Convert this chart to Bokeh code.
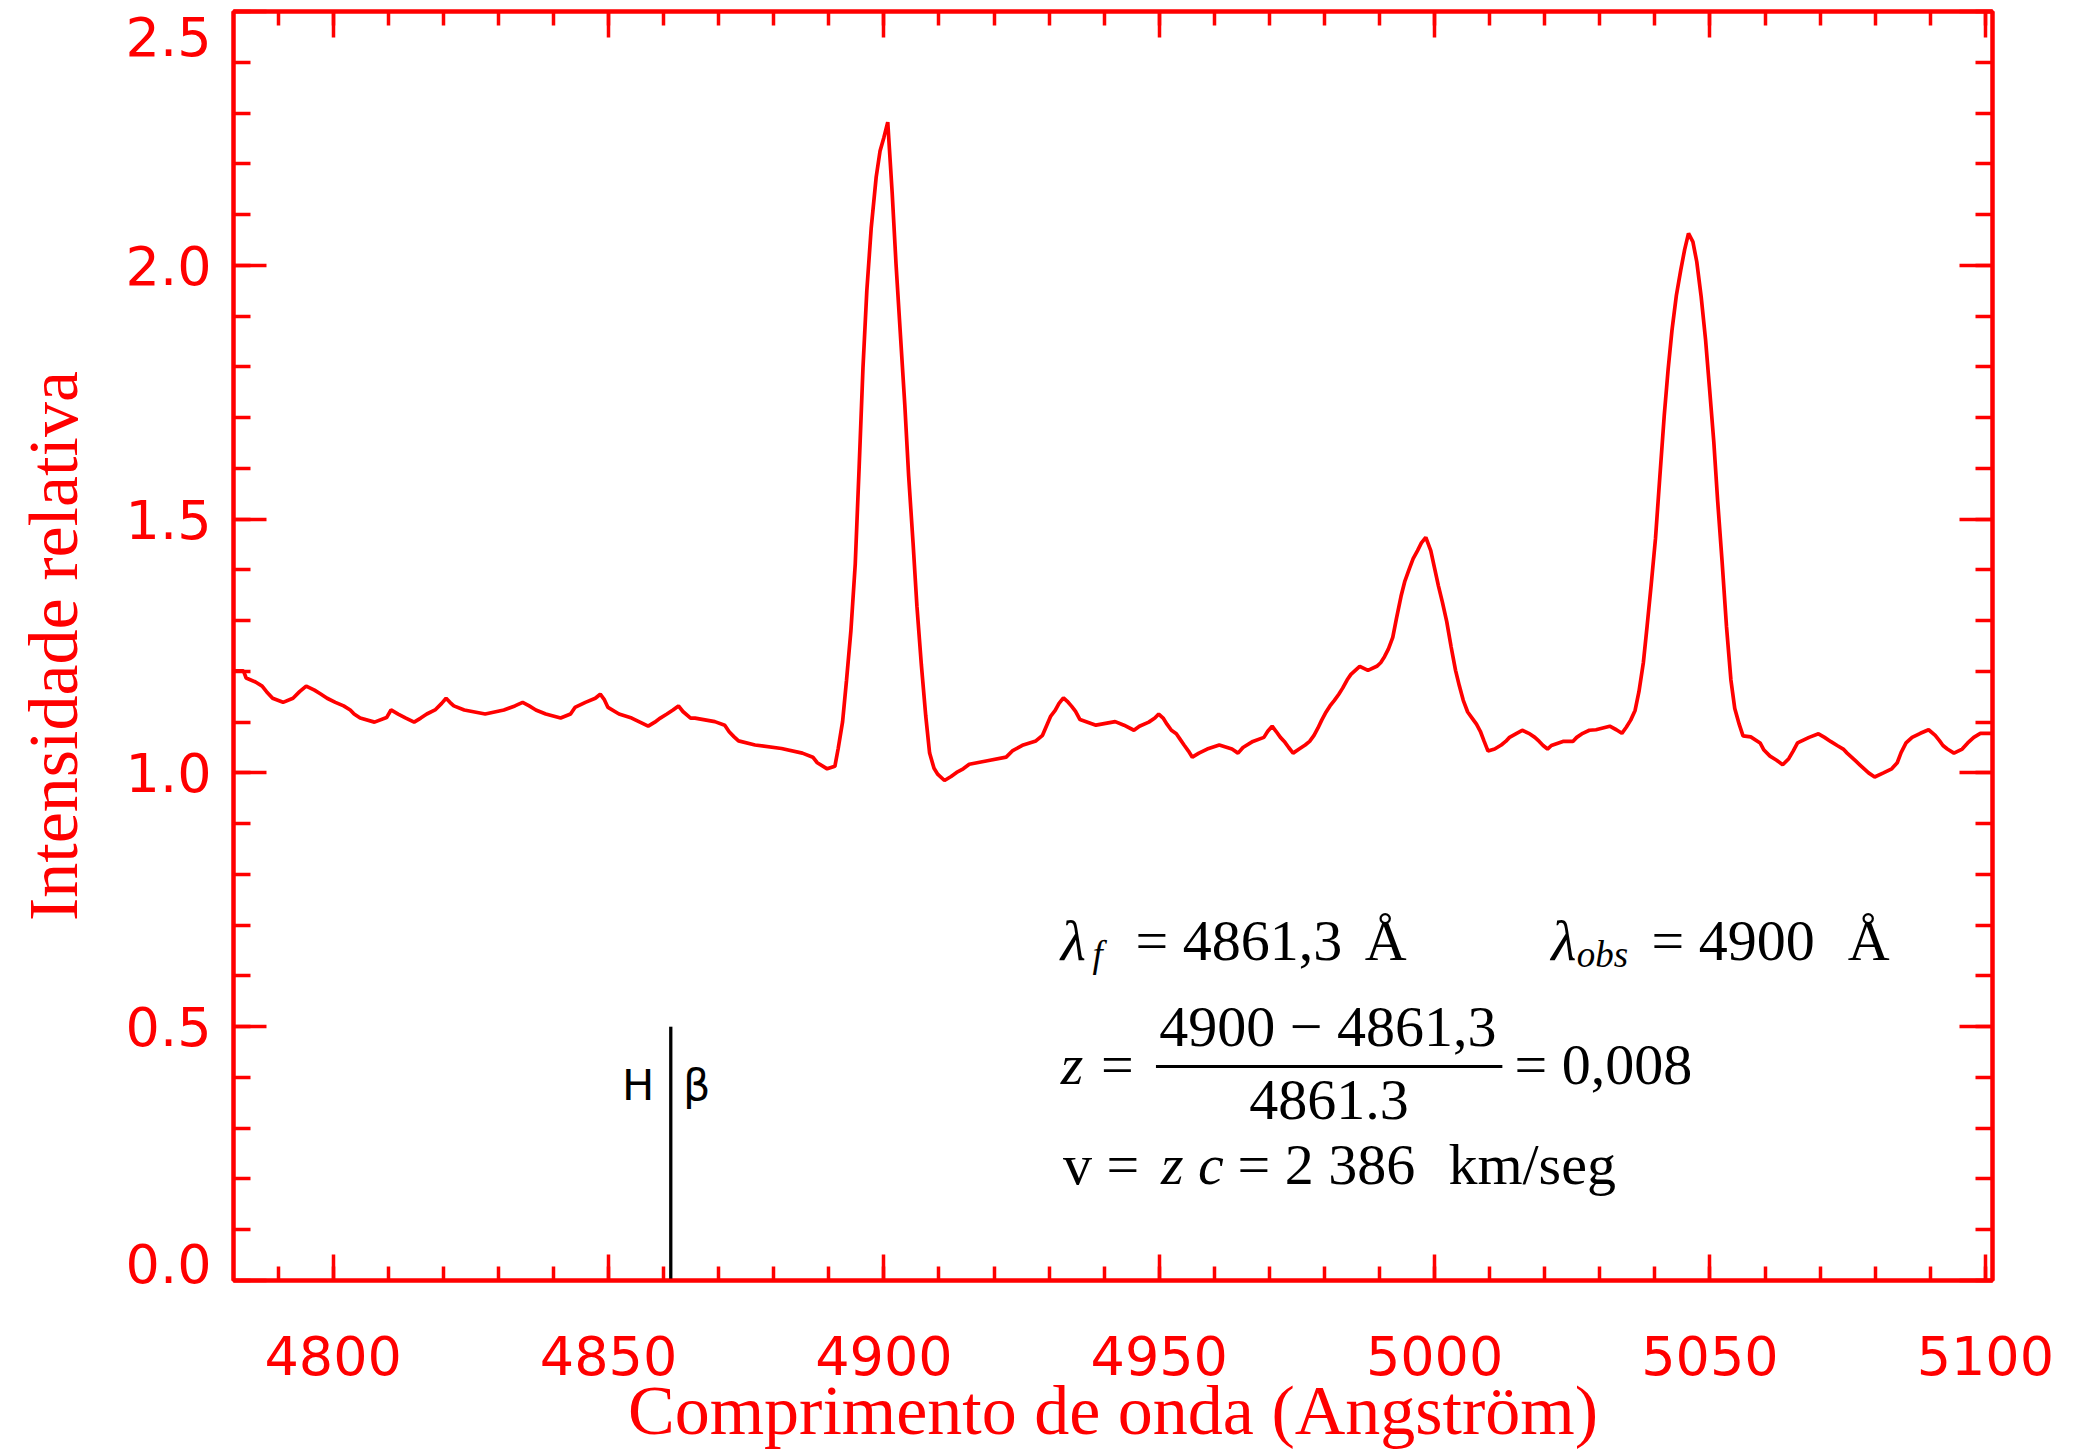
from bokeh.plotting import figure
from bokeh.models import (Range1d, LinearAxis, SingleIntervalTicker, FixedTicker,
                          CustomJSTickFormatter, Label, ColumnDataSource)
from bokeh.embed import file_html
from bokeh.resources import INLINE

# ---------------- data ----------------
wavelength = [
    4781.9, 4783.7, 4784.2, 4785.9, 4787.1, 4787.9, 4789.0, 4790.9, 4792.7, 4793.9,
    4795.1, 4796.6, 4797.8, 4798.9, 4800.4, 4801.9, 4803.1, 4803.8, 4804.9, 4807.5,
    4809.7, 4810.5, 4811.8, 4813.2, 4814.7, 4815.9, 4817.0, 4818.5, 4819.7, 4820.5,
    4821.2, 4821.9, 4823.8, 4827.6, 4831.0, 4833.0, 4834.4, 4835.6, 4836.8, 4838.6,
    4841.3, 4843.1, 4843.9, 4845.8, 4847.6, 4848.5, 4849.2, 4849.9, 4851.9, 4854.2,
    4855.7, 4857.2, 4858.4, 4859.4, 4860.6, 4861.7, 4862.7, 4863.5, 4864.9,
    4865.7, 4869.3, 4871.1, 4871.9, 4872.8, 4873.6, 4876.6, 4881.4, 4885.2, 4887.1,
    4887.9, 4889.7, 4891.1,
    4891.7, 4892.5, 4893.2, 4894.0, 4894.8, 4895.5, 4896.2, 4896.9, 4897.7, 4898.6,
    4899.3, 4900.0, 4900.7,
    4901.5, 4902.2, 4903.0, 4903.8, 4904.5, 4905.3, 4906.0, 4906.8, 4907.6, 4908.3,
    4909.1, 4909.8, 4911.0, 4912.2, 4913.2, 4914.4, 4915.5, 4918.8, 4922.2, 4923.4,
    4925.3, 4927.6, 4928.8, 4929.5, 4930.3, 4931.1, 4931.8, 4932.6, 4933.3, 4934.1,
    4934.8, 4935.6, 4938.5, 4942.0, 4943.6,
    4945.4, 4946.4, 4948.1, 4949.2, 4949.9, 4950.7, 4951.4, 4952.2, 4953.1, 4953.8,
    4954.5, 4955.3, 4956.0, 4957.2, 4958.7, 4960.9, 4963.2, 4964.3, 4965.2, 4967.0,
    4969.0, 4969.7, 4970.5, 4971.2, 4972.0, 4972.7, 4973.5, 4974.3, 4975.4, 4976.5,
    4977.3, 4978.1, 4978.8, 4979.5, 4980.3, 4981.0, 4981.8, 4982.6, 4983.3, 4984.1,
    4984.8, 4985.6, 4986.4, 4987.9, 4989.5, 4990.2, 4990.9, 4991.6, 4992.4, 4993.1,
    4993.9, 4994.6, 4995.4, 4996.1, 4996.9, 4997.6, 4998.4, 4999.3, 5000.0, 5000.7,
    5001.4, 5002.2, 5003.0, 5003.8, 5004.5, 5005.2, 5006.0, 5006.8, 5007.6, 5008.3,
    5009.0, 5009.7, 5010.9, 5012.1, 5012.9, 5013.6, 5014.9, 5015.9, 5017.1, 5018.2,
    5019.0, 5019.7, 5020.5, 5021.2, 5023.3, 5025.1, 5025.8, 5026.9, 5028.1,
    5029.3, 5031.8, 5033.0, 5034.0, 5034.8, 5035.6, 5036.4, 5037.1, 5037.9, 5038.6,
    5039.3, 5040.1, 5040.9, 5041.7, 5042.4, 5043.1, 5043.9, 5044.7, 5045.4, 5046.1,
    5046.9, 5047.6, 5048.4, 5049.2, 5049.9, 5050.7, 5051.4, 5052.2, 5053.0, 5053.8,
    5054.5, 5055.3, 5056.0, 5057.4, 5059.1, 5059.8, 5060.9, 5062.1, 5063.2, 5064.3,
    5065.1, 5065.9, 5068.0, 5069.7, 5070.8, 5071.9, 5073.1, 5074.2, 5074.9, 5075.7,
    5076.5, 5077.2, 5078.0, 5078.8, 5079.9, 5081.5, 5083.0, 5084.0, 5084.7, 5085.6,
    5086.7, 5088.2, 5089.7, 5090.9, 5091.7, 5092.3, 5093.1, 5094.3, 5095.8, 5096.8,
    5097.9, 5099.1, 5101.3,
]
intensity = [
    1.201, 1.201, 1.187, 1.179, 1.171, 1.160, 1.147, 1.139, 1.147, 1.160,
    1.171, 1.163, 1.155, 1.147, 1.139, 1.132, 1.124, 1.116, 1.108, 1.100,
    1.109, 1.124, 1.116, 1.108, 1.100, 1.108, 1.116, 1.124, 1.137, 1.147,
    1.139, 1.132, 1.124, 1.116, 1.124, 1.132, 1.139, 1.132, 1.124, 1.116,
    1.108, 1.116, 1.129, 1.139, 1.147, 1.155, 1.145, 1.129, 1.116, 1.108,
    1.100, 1.092, 1.100, 1.108, 1.116, 1.124, 1.132, 1.121, 1.108,
    1.108, 1.101, 1.094, 1.081, 1.071, 1.063, 1.055, 1.048, 1.039, 1.031,
    1.020, 1.008, 1.013,
    1.048, 1.101, 1.181, 1.279, 1.412, 1.601, 1.798, 1.950, 2.074, 2.174,
    2.225, 2.252, 2.282,
    2.143, 2.003, 1.863, 1.724, 1.584, 1.452, 1.328, 1.213, 1.112, 1.039,
    1.009, 0.997, 0.985, 0.993, 1.001, 1.008, 1.017, 1.024, 1.031, 1.044,
    1.055, 1.063, 1.074, 1.092, 1.112, 1.123, 1.137, 1.148, 1.141, 1.131,
    1.121, 1.105, 1.094, 1.101, 1.094,
    1.084, 1.092, 1.100, 1.108, 1.116, 1.108, 1.096, 1.084, 1.077, 1.066,
    1.055, 1.043, 1.031, 1.039, 1.047, 1.055, 1.047, 1.039, 1.050, 1.062,
    1.070, 1.082, 1.092, 1.082, 1.070, 1.062, 1.050, 1.039, 1.047, 1.055,
    1.062, 1.074, 1.088, 1.104, 1.120, 1.132, 1.143, 1.155, 1.167, 1.183,
    1.194, 1.202, 1.210, 1.202, 1.210, 1.217, 1.229, 1.244, 1.267, 1.306,
    1.348, 1.378, 1.402, 1.422, 1.438, 1.453, 1.464, 1.438, 1.403, 1.368,
    1.337, 1.298, 1.248, 1.202, 1.171, 1.143, 1.120, 1.108, 1.096, 1.082,
    1.062, 1.043, 1.047, 1.055, 1.062, 1.070, 1.078, 1.084, 1.078, 1.070,
    1.062, 1.054, 1.047, 1.054, 1.062, 1.062, 1.070, 1.078, 1.084,
    1.085, 1.092, 1.085, 1.078, 1.090, 1.104, 1.123, 1.160, 1.217, 1.291,
    1.368, 1.461, 1.584, 1.705, 1.795, 1.872, 1.941, 1.991, 2.031, 2.063,
    2.046, 2.007, 1.938, 1.853, 1.760, 1.651, 1.535, 1.416, 1.288, 1.183,
    1.127, 1.096, 1.073, 1.071, 1.059, 1.045, 1.033, 1.025, 1.016, 1.028,
    1.043, 1.059, 1.070, 1.077, 1.070, 1.062, 1.054, 1.047, 1.039, 1.031,
    1.023, 1.016, 1.008, 1.000, 0.992, 1.000, 1.008, 1.020, 1.040, 1.059,
    1.070, 1.078, 1.085, 1.074, 1.063, 1.054, 1.047, 1.039, 1.047, 1.059,
    1.070, 1.078, 1.078,
]

hbeta_wavelength = [4861.3]
hbeta_bottom = [0.0]
hbeta_top = [0.5]

y_tick_values = [0.0, 0.5, 1.0, 1.5, 2.0, 2.5]
y_tick_labels = ["0.0", "0.5", "1.0", "1.5", "2.0", "2.5"]

x_start, x_end = 4781.9, 5101.3
y_start, y_end = 0.0, 2.5
x_major, y_major = 50, 0.5

RED = "#ff0000"

p = figure(width=2084, height=1452,
           x_range=Range1d(x_start, x_end), y_range=Range1d(y_start, y_end),
           output_backend="svg", toolbar_location=None,
           x_axis_location=None, y_axis_location=None,
           min_border_left=233, min_border_right=92, min_border_top=11, min_border_bottom=172)
p.grid.visible = False
p.background_fill_color = "white"
p.border_fill_color = "white"
p.outline_line_color = RED
p.outline_line_width = 4


def style_axis(ax, tick_major, tick_minor):
    ax.axis_line_color = RED
    ax.axis_line_width = 4
    ax.major_tick_line_color = RED
    ax.minor_tick_line_color = RED
    ax.major_tick_line_width = 3.5
    ax.minor_tick_line_width = 3.5
    ax.major_tick_out = 0
    ax.minor_tick_out = 0
    ax.major_tick_in = tick_major
    ax.minor_tick_in = tick_minor
    ax.major_label_text_color = RED
    ax.major_label_text_font = "DejaVu Sans"
    ax.major_label_text_font_size = "54px"
    ax.axis_label_text_color = RED
    ax.axis_label_text_font = "Liberation Serif"
    ax.axis_label_text_font_size = "70px"
    ax.axis_label_text_font_style = "normal"


xt = SingleIntervalTicker(interval=x_major, num_minor_ticks=5)
yt = SingleIntervalTicker(interval=y_major, num_minor_ticks=5)
blank = CustomJSTickFormatter(code="return ''")

bottom = LinearAxis(ticker=xt, axis_label="Comprimento de onda (Angström)")
style_axis(bottom, 26, 14)
bottom.major_label_standoff = 55
bottom.axis_label_standoff = -6
p.add_layout(bottom, "below")

# left side: ticks on the frame edge ...
left_ticks = LinearAxis(ticker=yt, formatter=blank)
style_axis(left_ticks, 33, 17)
left_ticks.major_label_text_font_size = "1px"
left_ticks.major_label_standoff = 0
p.add_layout(left_ticks, "left")

# ... and the labels, kept inside the axis extent at both ends (as the original does)
inset_low, inset_high = 0.034, 0.05
label_pos = [min(max(v, y_start + inset_low), y_end - inset_high) for v in y_tick_values]
left_labels = LinearAxis(
    ticker=FixedTicker(ticks=label_pos, minor_ticks=[]),
    formatter=CustomJSTickFormatter(
        args=dict(pos=label_pos, txt=y_tick_labels),
        code="const i = pos.findIndex(v => Math.abs(v - tick) < 1e-9); return i >= 0 ? txt[i] : '';"),
    axis_label="Intensidade relativa")
style_axis(left_labels, 0, 0)
left_labels.axis_line_color = None
left_labels.major_tick_line_color = None
left_labels.minor_tick_line_color = None
left_labels.major_label_standoff = 22
left_labels.axis_label_standoff = 31
p.add_layout(left_labels, "left")

top = LinearAxis(ticker=xt, formatter=blank)
style_axis(top, 26, 14)
top.major_label_text_font_size = "1px"
top.major_label_standoff = 0
p.add_layout(top, "above")

right = LinearAxis(ticker=yt, formatter=blank)
style_axis(right, 33, 17)
right.major_label_text_font_size = "1px"
right.major_label_standoff = 0
p.add_layout(right, "right")

src = ColumnDataSource(dict(x=wavelength, y=intensity))
p.line("x", "y", source=src, line_color=RED, line_width=3.7)

p.segment(x0=hbeta_wavelength, y0=hbeta_bottom, x1=hbeta_wavelength, y1=hbeta_top,
          line_color="black", line_width=3.3)
p.add_layout(Label(x=4858.3, y=0.335, text="H", text_align="right", text_color="black",
                   text_font="DejaVu Sans", text_font_size="43px"))
p.add_layout(Label(x=4863.5, y=0.335, text="β", text_align="left", text_color="black",
                   text_font="DejaVu Sans", text_font_size="43px"))

SHIFT = 0.041  # baseline correction for the serif labels


def eq(x, y, text, size=58, style="normal", align="left"):
    p.add_layout(Label(x=x, y=y + SHIFT, text=text, text_align=align, text_baseline="alphabetic",
                       text_color="black", text_font="Liberation Serif",
                       text_font_size=f"{size}px", text_font_style=style))


# line 1
eq(4932.1, 0.6285, "λ", style="italic")
eq(4937.9, 0.601, "f", size=37, style="italic")
eq(4945.7, 0.6285, "= 4861,3")
eq(4987.3, 0.6285, "Å")
eq(5021.2, 0.6285, "λ", style="italic")
eq(5025.8, 0.601, "obs", size=37, style="italic")
eq(5039.4, 0.6285, "= 4900")
eq(5075.0, 0.6285, "Å")
# line 2 (fraction)
eq(4932.1, 0.384, "z", style="italic")
eq(4939.4, 0.384, "=")
eq(4980.6, 0.459, "4900 − 4861,3", align="center")
p.segment(x0=[4949.4], y0=[0.4216], x1=[5012.3], y1=[0.4216], line_color="black", line_width=3)
eq(4980.8, 0.315, "4861.3", align="center")
eq(5014.5, 0.384, "= 0,008")
# line 3
eq(4932.5, 0.187, "v =")
eq(4950.3, 0.187, "z c", style="italic")
eq(4964.2, 0.187, "= 2 386")
eq(5002.5, 0.187, "km/seg")

open("out.html", "w").write(file_html(p, INLINE))
